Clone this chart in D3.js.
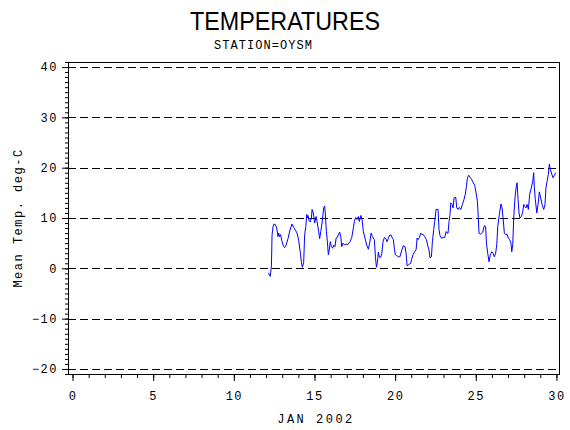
<!DOCTYPE html>
<html>
<head>
<meta charset="utf-8">
<script src="https://cdn.jsdelivr.net/npm/d3@7"></script>
<style>
  body { margin: 0; background: #fff; }
  text { font-family: "Liberation Mono", "DejaVu Sans Mono", monospace; fill: #000; }
</style>
</head>
<body>
<svg id="chart" width="570" height="430"></svg>
<script>
// temperature record, day of January 2002 vs mean temp (deg C)
var days = [12.14, 12.26, 12.33, 12.37, 12.43, 12.49, 12.57, 12.66, 12.74, 12.78, 12.84, 12.90, 12.99,
  13.09, 13.15, 13.24, 13.36, 13.48, 13.61, 13.71, 13.81, 13.92, 14.02, 14.13, 14.19, 14.25, 14.33,
  14.39, 14.46, 14.52, 14.56, 14.60, 14.66, 14.74, 14.81, 14.85, 14.91, 14.97, 15.01, 15.10, 15.16,
  15.26, 15.32, 15.39, 15.47, 15.57, 15.63, 15.67, 15.74, 15.80, 15.86, 15.92, 15.98, 16.05, 16.13,
  16.19, 16.27, 16.34, 16.38, 16.48, 16.56, 16.63, 16.69, 16.77, 16.85, 16.96, 17.06, 17.20, 17.31,
  17.41, 17.47, 17.55, 17.64, 17.72, 17.78, 17.87, 17.95, 18.03, 18.13, 18.24, 18.34, 18.42, 18.51,
  18.59, 18.71, 18.78, 18.84, 18.90, 18.96, 19.02, 19.11, 19.17, 19.25, 19.33, 19.42, 19.50, 19.58,
  19.66, 19.75, 19.83, 19.89, 19.95, 20.01, 20.10, 20.20, 20.30, 20.41, 20.51, 20.61, 20.68, 20.74,
  20.82, 20.92, 20.97, 21.01, 21.11, 21.21, 21.30, 21.36, 21.42, 21.50, 21.59, 21.67, 21.75, 21.83,
  21.94, 22.04, 22.10, 22.16, 22.25, 22.31, 22.39, 22.45, 22.54, 22.66, 22.72, 22.78, 22.87, 22.97,
  23.07, 23.16, 23.22, 23.28, 23.34, 23.40, 23.45, 23.53, 23.59, 23.65, 23.76, 23.82, 23.90, 23.98,
  24.07, 24.17, 24.27, 24.35, 24.42, 24.48, 24.56, 24.64, 24.73, 24.85, 24.93, 25.02, 25.10, 25.14,
  25.20, 25.30, 25.43, 25.53, 25.61, 25.66, 25.74, 25.82, 25.90, 25.99, 26.07, 26.15, 26.23, 26.30,
  26.36, 26.46, 26.56, 26.63, 26.69, 26.77, 26.85, 26.94, 27.02, 27.10, 27.18, 27.23, 27.29, 27.35,
  27.43, 27.50, 27.56, 27.62, 27.68, 27.74, 27.83, 27.91, 27.97, 28.03, 28.11, 28.18, 28.26, 28.34,
  28.42, 28.53, 28.59, 28.63, 28.69, 28.78, 28.86, 28.94, 29.02, 29.11, 29.21, 29.29, 29.35, 29.42,
  29.50, 29.56, 29.62, 29.71, 29.79, 29.87, 29.95];

var temps = [-0.9, -1.6, 0.5, 6.6, 8.3, 8.8, 8.7, 8.0, 6.3, 7.0, 6.3, 6.7, 5.3,
  4.3, 4.1, 4.6, 5.9, 7.6, 8.8, 8.1, 7.6, 7.0, 5.6, 2.9, 1.2, 0.2, 1.2,
  6.6, 8.3, 10.7, 10.0, 10.5, 9.5, 9.2, 10.0, 11.7, 11.2, 10.0, 9.0, 10.3, 9.3,
  7.3, 5.9, 7.3, 9.0, 12.0, 12.4, 11.0, 7.3, 5.3, 2.7, 3.7, 5.3, 4.3, 4.0,
  4.6, 4.3, 6.0, 6.0, 6.6, 7.2, 6.3, 4.3, 5.0, 4.7, 4.8, 4.7, 5.3, 6.1,
  8.0, 9.3, 10.1, 9.7, 10.3, 9.3, 10.5, 9.7, 7.3, 6.0, 4.6, 3.8, 5.0, 7.0,
  6.3, 5.7, 2.2, 0.2, 1.2, 3.2, 2.2, 2.2, 2.9, 5.3, 6.1, 5.9, 5.3, 6.0,
  6.6, 6.6, 6.0, 5.7, 4.0, 2.7, 2.5, 2.3, 2.3, 3.6, 4.5, 4.3, 3.0, 0.5,
  0.7, 0.9, 1.0, 1.7, 2.7, 3.3, 3.7, 6.0, 5.7, 6.1, 7.0, 6.7, 6.7, 6.3,
  5.7, 4.3, 3.7, 2.1, 2.3, 5.3, 7.7, 9.3, 11.7, 11.7, 7.7, 6.5, 6.0, 6.1,
  6.1, 7.3, 7.0, 7.0, 9.3, 10.7, 13.0, 12.7, 12.0, 14.0, 14.1, 12.0, 11.7, 12.1,
  11.7, 12.7, 13.7, 14.7, 16.3, 18.0, 18.5, 18.1, 17.7, 17.0, 16.5, 15.0, 13.3, 11.0,
  7.0, 6.8, 7.2, 8.5, 8.3, 5.0, 3.0, 1.3, 2.7, 3.3, 3.0, 2.3, 3.0, 4.7,
  8.3, 10.7, 12.8, 12.0, 10.0, 7.0, 6.7, 6.8, 6.0, 5.7, 5.0, 3.3, 4.7, 10.0,
  14.0, 16.0, 17.0, 13.7, 11.0, 10.0, 10.3, 11.3, 12.7, 12.3, 12.0, 12.7, 11.7, 14.7,
  15.7, 17.3, 19.0, 16.0, 13.7, 11.0, 12.7, 15.2, 14.0, 12.7, 11.7, 12.7, 16.0, 17.3,
  18.7, 20.7, 19.7, 18.7, 18.0, 18.5, 19.0];

var xTicks = [0, 5, 10, 15, 20, 25, 30];
var yTicks = [-20, -10, 0, 10, 20, 30, 40];

var svg = d3.select("#chart");
var mLeft = 68, mRight = 560, mTop = 62, mBottom = 375;

var x = d3.scaleLinear().domain([-0.28, 30.22]).range([mLeft, mRight]);
var y = d3.scaleLinear().domain([-21.2, 41]).range([mBottom, mTop]);

// titles
svg.append("text")
  .attr("x", 285).attr("y", 30)
  .attr("text-anchor", "middle")
  .attr("textLength", 190).attr("lengthAdjust", "spacingAndGlyphs")
  .style("font-family", "'Liberation Sans Narrow', 'Liberation Sans', Arial, sans-serif")
  .style("font-size", "26px")
  .text("TEMPERATURES");

svg.append("text")
  .attr("x", 263).attr("y", 49)
  .attr("text-anchor", "middle")
  .attr("textLength", 98).attr("lengthAdjust", "spacing")
  .style("font-size", "12px")
  .text("STATION=OYSM");

// dashed reference lines
svg.append("g").selectAll("line")
  .data(yTicks)
  .join("line")
  .attr("x1", mLeft).attr("x2", mRight)
  .attr("y1", function (d) { return Math.round(y(d)) + 0.5; })
  .attr("y2", function (d) { return Math.round(y(d)) + 0.5; })
  .attr("stroke", "#000")
  .attr("stroke-dasharray", "8,4");

// axes
var xAxis = d3.axisBottom(x).tickValues(xTicks).tickSize(6).tickPadding(10).tickFormat(d3.format("d"));
var xMinor = d3.axisBottom(x).tickValues(d3.range(0, 31)).tickSize(3).tickFormat("");
var yAxis = d3.axisLeft(y).tickValues(yTicks).tickSize(6).tickPadding(4).tickFormat(d3.format("d"));
var yMinor = d3.axisLeft(y).tickValues(d3.range(-21, 42)).tickSize(3).tickFormat("");

[xMinor, xAxis].forEach(function (ax) {
  svg.append("g").attr("transform", "translate(0," + mBottom + ")").call(ax);
});
[yMinor, yAxis].forEach(function (ax) {
  svg.append("g").attr("transform", "translate(" + mLeft + ",0)").call(ax);
});
svg.selectAll(".domain").remove();
svg.selectAll(".tick line").attr("stroke", "#000");
svg.selectAll(".tick text")
  .style("font-family", "'Liberation Mono', monospace")
  .style("font-size", "12px")
  .attr("letter-spacing", "1.5px")
  .attr("fill", "#000");

// frame
svg.append("rect")
  .attr("x", mLeft + 0.5).attr("y", mTop + 0.5)
  .attr("width", mRight - mLeft - 1).attr("height", mBottom - mTop - 1)
  .attr("fill", "none").attr("stroke", "#000");

// axis labels
svg.append("text")
  .attr("x", 316).attr("y", 423)
  .attr("text-anchor", "middle")
  .attr("letter-spacing", "2.5px")
  .style("font-size", "12px")
  .text("JAN 2002");

svg.append("text")
  .attr("transform", "translate(22,218) rotate(-90)")
  .attr("text-anchor", "middle")
  .attr("letter-spacing", "1.5px")
  .style("font-size", "12px")
  .text("Mean Temp. deg-C");

// temperature line
var pts = days.map(function (d, i) { return [d, temps[i]]; });
svg.append("path")
  .datum(pts)
  .attr("fill", "none")
  .attr("stroke", "#0000ff")
  .attr("stroke-width", 1)
  .attr("d", d3.line().x(function (d) { return x(d[0]); }).y(function (d) { return y(d[1]); }));
</script>
</body>
</html>
